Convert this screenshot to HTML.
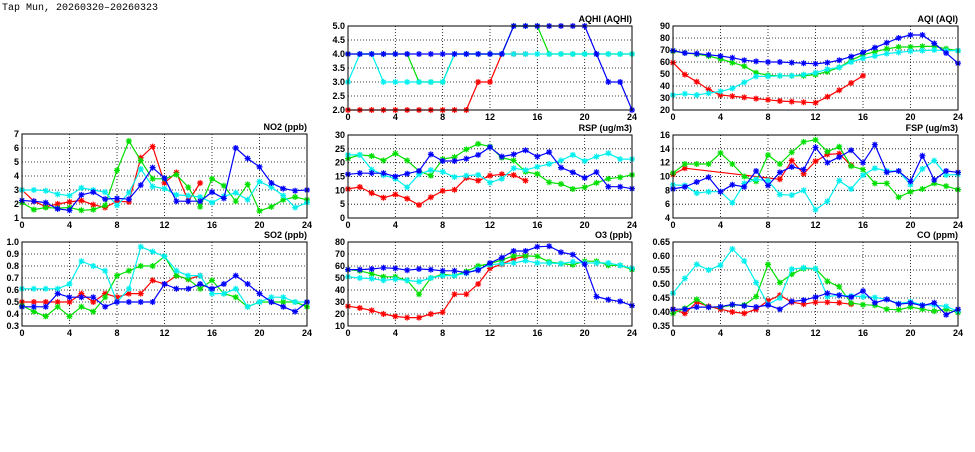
<!DOCTYPE html>
<html><head><meta charset="utf-8"><style>
body{margin:0;background:#fff;width:975px;height:447px;overflow:hidden}
svg text{font-family:"Liberation Sans",sans-serif;font-size:9px;font-weight:bold;fill:#000}
</style></head><body>
<svg id="s" width="975" height="447" xmlns="http://www.w3.org/2000/svg">
<text x="2" y="10" style="font-family:'Liberation Mono',monospace;font-size:10px;font-weight:normal">Tap Mun, 20260320–20260323</text>
</svg>
<script>
const S=document.getElementById('s');let h='';
const C={r:'#ff0000',g:'#00e000',c:'#00f0f0',b:'#0000ff'};
function panel(x0,x1,y0,y1,lo,hi,step,dec,title,ser){
 const X=t=>x0+(x1-x0)*t/24, Y=v=>y1-(y1-y0)*(v-lo)/(hi-lo);
 for(let v=lo;v<=hi+1e-9;v+=step){const y=Y(v).toFixed(1);
  if(v>lo+1e-9&&v<hi-1e-9)h+=`<line x1="${x0}" x2="${x1}" y1="${y}" y2="${y}" stroke="#000" stroke-width="0.8" stroke-dasharray="1,2"/>`;
  h+=`<text x="${x0-3}" y="${(+y+3).toFixed(1)}" text-anchor="end">${v.toFixed(dec)}</text>`;}
 for(let t=0;t<=24;t+=4){const x=X(t);
  if(t>0&&t<24)h+=`<line x1="${x}" x2="${x}" y1="${y0}" y2="${y1}" stroke="#000" stroke-width="0.8" stroke-dasharray="1,2"/>`;
  h+=`<text x="${x}" y="${y1+10}" text-anchor="middle">${t}</text>`;}
 for(const k of ['r','g','c','b']){const d=ser[k];if(!d)continue;let p=[];
  d.forEach((v,i)=>{if(v!==null)p.push([X(i),Y(v)]);});
  h+=`<polyline fill="none" stroke="${C[k]}" stroke-width="1.2" points="${p.map(q=>q[0].toFixed(1)+','+q[1].toFixed(1)).join(' ')}"/>`;
  let m='';p.forEach(([x,y])=>{m+=`M${x-3},${y}h6M${x},${y-3}v6M${x-2.2},${y-2.2}l4.4,4.4M${x-2.2},${y+2.2}l4.4,-4.4`;});
  h+=`<path d="${m}" stroke="${C[k]}" stroke-width="1.2" fill="none"/>`;}
 h+=`<rect x="${x0}" y="${y0}" width="${x1-x0}" height="${y1-y0}" fill="none" stroke="#000" stroke-width="1"/>`;
 h+=`<text x="${x1}" y="${y0-4}" text-anchor="end">${title}</text>`;
}
const n=null;
panel(22,307,134,218,1,7,1,0,'NO2 (ppb)',{
r:[3,2.2,1.8,2,2.15,2.25,1.95,1.75,2.2,2.15,5.3,6.1,3.5,4.25,2.2,3.5],
g:[2.1,1.6,1.75,1.7,1.75,1.55,1.6,1.9,4.4,6.5,5.1,3.8,3.8,4.1,3.2,1.8,3.8,3.3,2.2,3.4,1.5,1.8,2.3,2.5,2.3],
c:[3,3,2.95,2.7,2.6,3.15,3,2.85,1.9,2.8,4.5,3.25,3.1,2.65,2.6,2.5,2.1,2.55,2.8,2.3,3.6,3.2,2.6,1.75,2.1],
b:[2.25,2.2,2.1,1.65,1.55,2.65,2.85,2.35,2.4,2.35,3.35,4.6,3.85,2.2,2.2,2.2,2.85,2.4,6,5.25,4.65,3.5,3.1,2.95,3]});
panel(22,307,242,326,0.3,1.0,0.1,1,'SO2 (ppb)',{
r:[.5,.5,.5,.5,.5,.57,.5,.57,.54,.57,.57,.68,.65,.72,.69,.72],
g:[.47,.42,.38,.46,.38,.46,.42,.54,.72,.76,.8,.8,.88,.72,.69,.61,.68,.57,.54,.46,.5,.5,.5,.5,.46],
c:[.61,.61,.61,.61,.65,.84,.8,.76,.5,.61,.96,.92,.88,.76,.72,.72,.57,.57,.61,.46,.5,.54,.54,.5,.5],
b:[.46,.46,.46,.57,.54,.54,.54,.46,.5,.5,.5,.5,.65,.61,.61,.65,.61,.65,.72,.65,.57,.5,.46,.42,.5]});
panel(348,632,26,110,2,5,0.5,1,'AQHI (AQHI)',{
r:[2,2,2,2,2,2,2,2,2,2,2,3,3,4,4,4],
g:[4,4,4,4,4,4,3,3,3,4,4,4,4,4,5,5,5,4,4,4,4,4,4,4,4],
c:[3,4,4,3,3,3,3,3,3,4,4,4,4,4,4,4,4,4,4,4,4,4,4,4,4],
b:[4,4,4,4,4,4,4,4,4,4,4,4,4,4,5,5,5,5,5,5,5,4,3,3,2]});
panel(348,632,135,218,0,30,5,0,'RSP (ug/m3)',{
r:[10.5,11.2,9,7.3,8.5,7,4.7,7.5,9.8,10.2,14.5,13.5,15.3,15.8,15.5,13.5],
g:[21.5,22.8,22.4,20.8,23.3,20.8,17,15.3,21.3,22,24.8,26.8,25.8,21.8,20.8,16.7,15.9,12.9,12.3,10.5,11.1,12.7,14.2,14.7,15.6],
c:[22.8,22.8,17.5,15.5,14.2,11.1,15.8,17.3,16.7,14.8,15.3,15.6,12.8,14.2,18,17.3,18.5,19.5,20.8,22.8,20.6,22.2,23.4,21.3,21.3],
b:[15.8,16.2,16.2,16.2,15,16,17,23,20.6,20.6,21.4,22.8,25.6,22.2,23,24.5,22.2,23.8,18.2,16.5,14.5,16.6,11.3,11.3,10.6]});
panel(348,632,242,326,10,80,10,0,'O3 (ppb)',{
r:[26.5,25,23,20,18,17,17,20,21.5,36.5,36.5,45,58,61.5,66,68],
g:[57,56,53.5,51,51,48,36.5,50,53,52,55.5,60,62,65,68.5,68.5,68,63.5,62,61,64,64,60.5,60.5,57],
c:[51,50,49.5,48,49,48,47,50,52,52,54,57.5,61,62,62.5,64.5,62.5,62.5,62,63.5,62.5,62.5,62.5,60.5,58],
b:[57,57,57.5,58.5,58,56.5,57.5,57,56,56,54.5,56.5,62.5,67,72.5,72.5,76,76.5,71.5,69.5,61.5,34.5,32,30.5,27]});
panel(673,958,26,110,20,90,10,0,'AQI (AQI)',{
r:[59.5,49.5,43.5,37,32.5,31.5,30.5,29.5,28.5,27.5,27,26.5,26,31,36.5,42.5,48.5],
g:[69,67.5,66.5,65,62.5,59.5,56.5,51,49,48.5,48.5,48.5,49.5,52,55.5,61.5,66,68.5,71,72.5,72.5,73,73,71,69.5],
c:[32.5,33.5,32.5,34,35.5,38,43,48,48,48.5,48.5,49.5,51,54,55.5,60,63,65,67,68,69,69.5,70,69.5,69.5],
b:[69.5,67.5,67,66,65,63.5,61.5,60.5,60,60,59.5,59,58.5,59.5,61.5,64.5,68,72,76,80,82.5,82.5,75.5,67.5,59]});
panel(673,958,135,218,4,16,2,0,'FSP (ug/m3)',{
r:[10.3,11.2,n,n,n,n,n,n,n,9.6,12.3,10.4,12.2,13.2,13.3,11.6],
g:[10.5,11.8,11.8,11.8,13.4,11.8,10,9.3,13.1,11.8,13.5,15,15.3,13.6,14.3,11.5,11,9,9,7,7.8,8.2,9,8.6,8.1],
c:[8.8,8.7,7.6,7.8,7.8,6.2,9,9.6,9.4,7.4,7.3,8,5.2,6.4,9.4,8.2,10.2,11.2,10.8,10.8,8.8,11.1,12.3,10.2,10.3],
b:[8.2,8.5,9.2,9.9,7.8,8.8,8.5,10.8,8.7,10.6,11.4,11,14.2,12,12.8,13.8,12,14.6,10.6,10.8,9.3,13,9.5,10.8,10.6]});
panel(673,958,242,326,0.35,0.65,0.05,2,'CO (ppm)',{
r:[.41,.395,.435,.42,.41,.4,.395,.41,.44,.46,.435,.428,.435,.435,.433,.428],
g:[.395,.413,.445,.418,.417,.425,.425,.455,.57,.505,.535,.555,.555,.51,.49,.432,.426,.424,.41,.408,.418,.41,.403,.41,.398],
c:[.467,.52,.57,.55,.567,.625,.582,.505,.427,.45,.553,.558,.555,.455,.46,.457,.455,.452,.445,.43,.437,.425,.425,.42,.403],
b:[.41,.41,.418,.417,.419,.427,.422,.418,.425,.41,.438,.442,.453,.467,.46,.453,.475,.433,.445,.428,.432,.423,.433,.39,.41]});
S.insertAdjacentHTML('beforeend',h);
</script>
</body></html>
